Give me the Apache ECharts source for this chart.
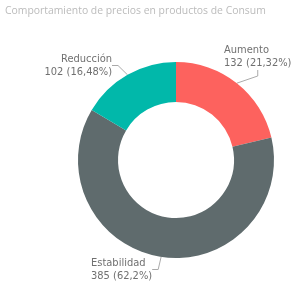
<!DOCTYPE html>
<html><head><meta charset="utf-8">
<script src="https://cdn.jsdelivr.net/npm/echarts@6/dist/echarts.min.js"></script>
<style>html,body{margin:0;padding:0;background:#fff}#c{width:300px;height:287px}</style>
</head><body><div id="c"></div>
<script>
var title = 'Comportamiento de precios en productos de Consum';
var categories = ['Aumento', 'Estabilidad', 'Reducción'];
var values = [132, 385, 102];
var colors = ['#FD625E', '#5F6B6D', '#01B8AA'];

// label placement (pixel anchors) per slice
var labelPos = [
  {x: 224, y: 57, align: 'left'},
  {x: 91, y: 269.5, align: 'left'},
  {x: 112, y: 65.5, align: 'right'}
];

var chart = echarts.init(document.getElementById('c'), null, {renderer: 'canvas'});
var data = categories.map(function (c, i) { return {name: c, value: values[i], itemStyle: {color: colors[i]}}; });
chart.setOption({
  animation: false,
  title: {text: title, left: 0, top: 1, textStyle: {fontFamily: 'Open Sans', fontSize: 10.4, fontWeight: 'normal', color: '#bbbbbb'}},
  series: [{
    type: 'pie',
    center: [176, 160],
    radius: [58, 98],
    startAngle: 90,
    clockwise: true,
    avoidLabelOverlap: false,
    label: {
      show: true,
      position: 'outside',
      fontFamily: 'DejaVu Sans Condensed',
      fontSize: 11,
      lineHeight: 13,
      color: '#707070',
      formatter: function (p) {
        var pct = p.percent.toFixed(2).replace(/0+$/, '').replace(/\.$/, '').replace('.', ',');
        return p.name + '\n' + p.value + ' (' + pct + '%)';
      }
    },
    labelLine: {show: true, length: 6, length2: 6, lineStyle: {color: '#aaa', width: 1}},
    labelLayout: function (p) {
      var lp = labelPos[p.dataIndex];
      return {x: lp.x, y: lp.y, align: lp.align, verticalAlign: 'middle'};
    },
    percentPrecision: 2,
    data: data
  }]
});
</script></body></html>
